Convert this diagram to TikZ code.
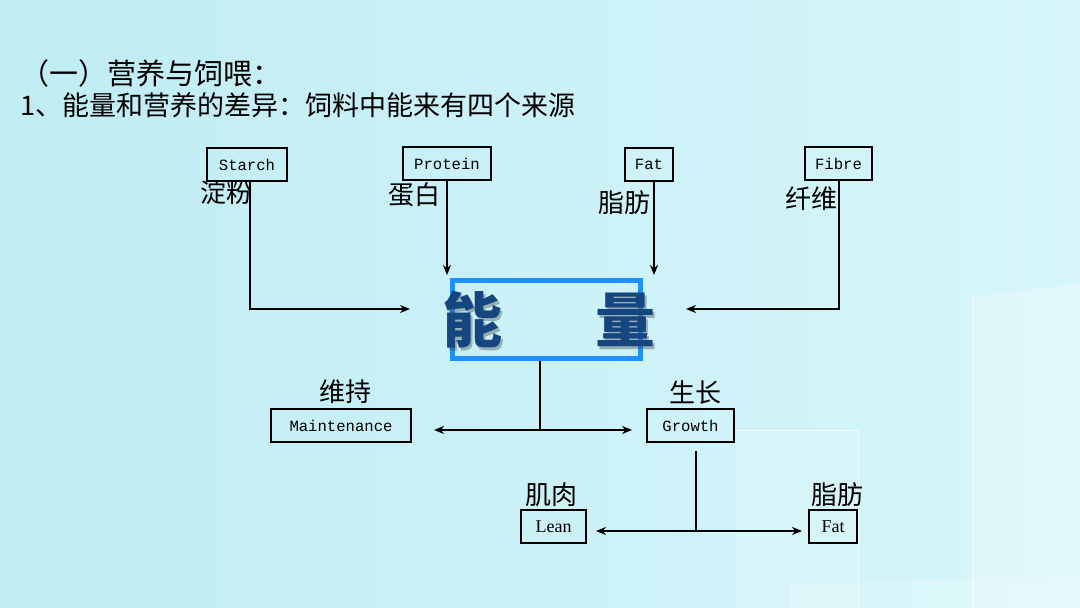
\documentclass[tikz,border=0pt]{standalone}
\usepackage{fontspec}
\setmainfont{Noto Sans CJK SC}
\newfontfamily\monofnt{Liberation Mono}
\newfontfamily\seriffnt{Liberation Serif}
\usetikzlibrary{arrows.meta,positioning,calc}
\definecolor{bgleft}{RGB}{192,236,244}
\definecolor{bgright}{RGB}{214,246,250}
\definecolor{energyblue}{RGB}{30,144,255}
\definecolor{energytext}{RGB}{22,70,128}

\begin{document}
\begin{tikzpicture}[x=0.5pt, y=-0.5pt,
    box/.style={draw, line width=1pt, inner sep=0pt, minimum height=16.5pt, font=\monofnt\fontsize{7.8}{9}\selectfont},
    outbox/.style={box, font=\seriffnt\fontsize{9}{11}\selectfont},
    cn/.style={inner sep=0pt, font=\fontsize{13}{15}\selectfont},
    big/.style={inner sep=0pt, text=energytext, font=\fontsize{30}{32}\selectfont\bfseries},
    link/.style={line width=1pt, ->},
    split/.style={line width=1pt, <->},
    >={Stealth[length=5pt,width=4pt]}
]
\useasboundingbox (0,0) rectangle (1080,608);

% --- Background ---
\fill[left color=bgleft, right color=bgright] (0,0) rectangle (1080,608);
\fill[white, opacity=.25] (972,297) -- (1080,283) -- (1080,608) -- (972,608) -- cycle;
\draw[white, opacity=.7] (972,297) -- (972,608);
\fill[white, opacity=.15] (735,430) rectangle (858,608);
\draw[white, opacity=.6] (735,430) -- (858,430) -- (858,608);
\fill[white, opacity=.2] (790,585) -- (1080,575) -- (1080,608) -- (790,608) -- cycle;

% --- Title ---
\node[anchor=west, inner sep=0pt, font=\fontsize{14.5}{16}\selectfont] (title) at (20,73) {（一）营养与饲喂：};
\node[anchor=west, inner sep=0pt, font=\fontsize{13.5}{16}\selectfont] (subtitle) at (20,105) {1、能量和营养的差异：饲料中能来有四个来源};

% --- Sources ---
\node[box, minimum width=40pt] (starch) at (247,164.5) {Starch};
\node[box, minimum width=44pt] (protein) at (447,164) {Protein};
\node[box, minimum width=24pt] (fatin) at (649,164.5) {Fat};
\node[box, minimum width=33.5pt] (fibre) at (838.5,163.5) {Fibre};

\node[cn] (lstarch) at (226,193) {淀粉};
\node[cn] (lprotein) at (414,195) {蛋白};
\node[cn] (lfatin) at (624,203) {脂肪};
\node[cn] (lfibre) at (811,199) {纤维};

% --- Energy ---
\node[draw=energyblue, line width=2.5pt, minimum width=94pt, minimum height=39pt] (energy) at (546.5,319.5) {};
\node[big, text=black!70, opacity=.4] at (474.5,322.5) {能};
\node[big, text=black!70, opacity=.4] at (627.5,322.5) {量};
\node[big] (neng) at (472,320) {能};
\node[big] (liang) at (625,320) {量};

% --- Uses ---
\node[box, minimum width=70pt] (maint) at (341,425.5) {Maintenance};
\node[box, minimum width=43.5pt] (growth) at (690.5,425.5) {Growth};
\node[cn] (lmaint) at (345,392) {维持};
\node[cn] (lgrowth) at (695,393) {生长};

\node[outbox, minimum width=32.5pt] (lean) at (553.5,526.5) {Lean};
\node[outbox, minimum width=24pt] (fatout) at (833,526.5) {Fat};
\node[cn] (llean) at (551,495) {肌肉};
\node[cn] (lfatout) at (837,495) {脂肪};

\coordinate (hub1) at (540,430);
\coordinate (hub2) at (696,531);

% Arrows into energy
\draw[link] ([xshift=1.5pt]starch.south) |- ([xshift=-20pt,yshift=5.25pt]energy.west);
\draw[link, shorten >=1.5pt] (protein.south) -- (protein.south |- energy.north);
\draw[link, shorten >=1.5pt] ([xshift=2.5pt]fatin.south) -- ([xshift=2.5pt]fatin.south |- energy.north);
\draw[link] (fibre.south) |- ([xshift=21.5pt,yshift=5.25pt]energy.east);

% Arrows out of energy
\draw[line width=1pt] (energy.south -| hub1) -- (hub1);
\draw[split] ([xshift=11pt]maint.east |- hub1) -- ([xshift=-7pt]growth.west |- hub1);
\draw[line width=1pt] ([yshift=-4pt]growth.south -| hub2) -- (hub2);
\draw[split] ([xshift=4.5pt]lean.east |- hub2) -- ([xshift=-3pt]fatout.west |- hub2);

\end{tikzpicture}
\end{document}
